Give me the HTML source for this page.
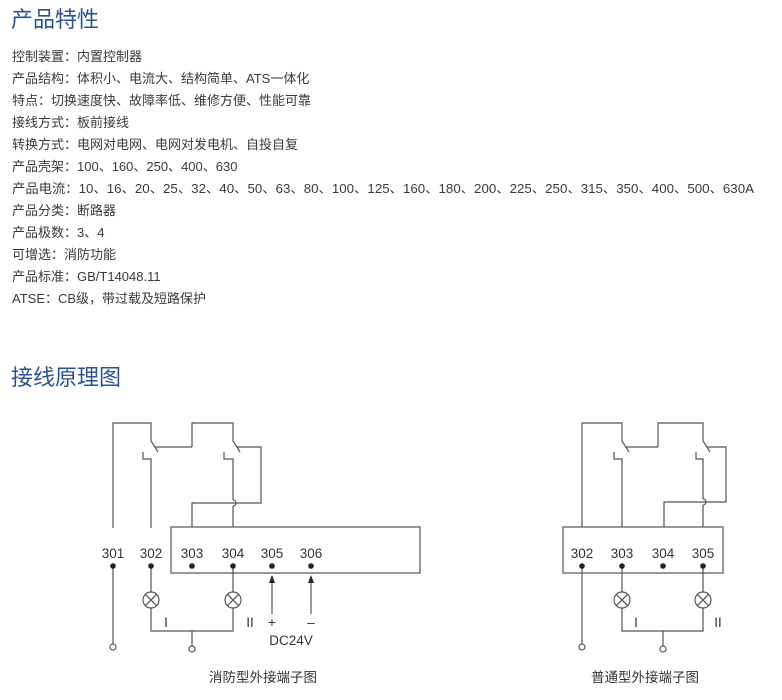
<!DOCTYPE html>
<html><head><meta charset="utf-8"><style>
html,body{margin:0;padding:0;background:#fff;width:782px;height:700px;overflow:hidden}
svg{display:block}
.t{font-family:"Liberation Sans","Noto Sans CJK SC",sans-serif;font-size:13px;fill:#3a3a3a}
.h{font-family:"Liberation Sans","Noto Sans CJK SC",sans-serif;font-size:22px;fill:#2b5394}
.n{font-family:"Liberation Sans","Noto Sans CJK SC",sans-serif;font-size:13.5px;fill:#333}
</style></head><body>
<svg width="782" height="700" viewBox="0 0 782 700" xmlns="http://www.w3.org/2000/svg">
<text class="h" x="11" y="27">产品特性</text>
<g class="t">
<text x="12" y="61">控制装置：内置控制器</text>
<text x="12" y="83">产品结构：体积小、电流大、结构简单、ATS一体化</text>
<text x="12" y="105">特点：切换速度快、故障率低、维修方便、性能可靠</text>
<text x="12" y="127">接线方式：板前接线</text>
<text x="12" y="149">转换方式：电网对电网、电网对发电机、自投自复</text>
<text x="12" y="171">产品壳架：100、160、250、400、630</text>
<text x="12" y="193" textLength="742" lengthAdjust="spacingAndGlyphs">产品电流：10、16、20、25、32、40、50、63、80、100、125、160、180、200、225、250、315、350、400、500、630A</text>
<text x="12" y="215">产品分类：断路器</text>
<text x="12" y="237">产品极数：3、4</text>
<text x="12" y="259">可增选：消防功能</text>
<text x="12" y="281">产品标准：GB/T14048.11</text>
<text x="12" y="303">ATSE：CB级，带过载及短路保护</text>
</g>
<text class="h" x="11" y="385">接线原理图</text>

<g stroke="#555" stroke-width="1.2" fill="none">
<rect x="171" y="527" width="249" height="46"/>
<polyline points="113,528 113,423 151,423 151,441 158,452"/>
<line x1="155" y1="447" x2="192" y2="447"/>
<polyline points="192,447 192,423 233,423 233,441 240,452"/>
<polyline points="237,447 261,447 261,503 192,503 192,527"/>
<polyline points="143,452 143,459 151,459 151,528"/>
<polyline points="224,452 224,459 233,459 233,500"/>
<path d="M233,500 a3,3 0 0 1 0,6"/>
<line x1="233" y1="506" x2="233" y2="527"/>
<line x1="113" y1="568" x2="113" y2="644"/>
<circle cx="113" cy="647" r="3"/>
<line x1="151" y1="568" x2="151" y2="592"/>
<circle cx="151" cy="600" r="8"/>
<line x1="145.3" y1="594.3" x2="156.7" y2="605.7"/><line x1="156.7" y1="594.3" x2="145.3" y2="605.7"/>
<polyline points="151,608 151,631 233,631 233,608"/>
<circle cx="233" cy="600" r="8"/>
<line x1="227.3" y1="594.3" x2="238.7" y2="605.7"/><line x1="238.7" y1="594.3" x2="227.3" y2="605.7"/>
<line x1="233" y1="568" x2="233" y2="592"/>
<line x1="192" y1="631" x2="192" y2="646"/>
<circle cx="192" cy="649" r="3"/>
<line x1="272" y1="581" x2="272" y2="614"/>
<line x1="311" y1="581" x2="311" y2="614"/>
<rect x="563" y="527" width="160" height="46"/>
<polyline points="582,527 582,423 622,423 622,441 629,452"/>
<line x1="626" y1="447" x2="658" y2="447"/>
<polyline points="658,447 658,423 703,423 703,441 710,452"/>
<polyline points="707,447 726,447 726,502 664,502 664,527"/>
<polyline points="614,452 614,459 622,459 622,527"/>
<polyline points="696,452 696,459 703,459 703,499"/>
<path d="M703,499 a3,3 0 0 1 0,6"/>
<line x1="703" y1="505" x2="703" y2="527"/>
<line x1="582" y1="568" x2="582" y2="644"/>
<circle cx="582" cy="647" r="3"/>
<line x1="622" y1="568" x2="622" y2="592"/>
<circle cx="622" cy="600" r="8"/>
<line x1="616.3" y1="594.3" x2="627.7" y2="605.7"/><line x1="627.7" y1="594.3" x2="616.3" y2="605.7"/>
<polyline points="622,608 622,631 703,631 703,608"/>
<circle cx="703" cy="600" r="8"/>
<line x1="697.3" y1="594.3" x2="708.7" y2="605.7"/><line x1="708.7" y1="594.3" x2="697.3" y2="605.7"/>
<line x1="703" y1="568" x2="703" y2="592"/>
<line x1="663" y1="631" x2="663" y2="646"/>
<circle cx="663" cy="649" r="3"/>
</g>
<g fill="#222">
<circle cx="113" cy="566" r="2.8"/><circle cx="151" cy="566" r="2.8"/><circle cx="192" cy="566" r="2.8"/>
<circle cx="233" cy="566" r="2.8"/><circle cx="272" cy="566" r="2.8"/><circle cx="311" cy="566" r="2.8"/>
<polygon points="272,575 269,583 275,583"/><polygon points="311,575 308,583 314,583"/>
<circle cx="582" cy="566" r="2.8"/><circle cx="622" cy="566" r="2.8"/><circle cx="663" cy="566" r="2.8"/><circle cx="703" cy="566" r="2.8"/>
</g>
<g class="n" text-anchor="middle">
<text x="113" y="558">301</text><text x="151" y="558">302</text><text x="192" y="558">303</text>
<text x="233" y="558">304</text><text x="272" y="558">305</text><text x="311" y="558">306</text>
<text x="166" y="627">I</text><text x="250" y="627">II</text>
<text x="272" y="627">+</text><text x="311" y="627">–</text>
<text x="291" y="645">DC24V</text>
<text x="263" y="682">消防型外接端子图</text>
<text x="582" y="558">302</text><text x="622" y="558">303</text><text x="663" y="558">304</text><text x="703" y="558">305</text>
<text x="636" y="627">I</text><text x="718" y="627">II</text>
<text x="645" y="682">普通型外接端子图</text>
</g>
</svg>
</body></html>
